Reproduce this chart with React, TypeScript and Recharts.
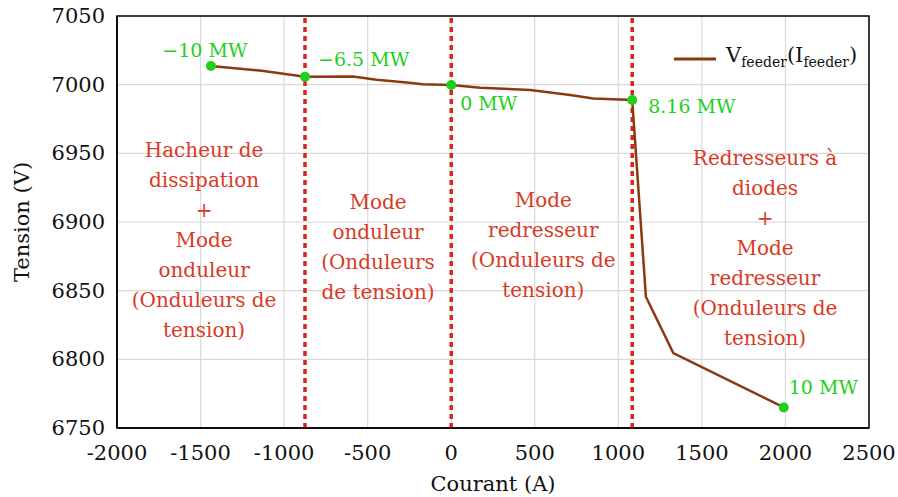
import React from 'react';
import {
  ComposedChart,
  Line,
  XAxis,
  YAxis,
  CartesianGrid,
  ReferenceLine,
  ReferenceDot,
  ReferenceArea,
  Legend,
  LabelList,
} from 'recharts';

// ---- Data ----
const currentA = [-1438, -1134, -875, -588, -447, -267, -169, 0, 174, 473, 712, 850, 1083, 1165, 1329, 1990];
const voltageV = [7013.6, 7010.2, 7005.7, 7006, 7003.6, 7001.6, 7000.3, 6999.7, 6997.8, 6996.1, 6992.5, 6990, 6988.8, 6845.6, 6804.6, 6765];

const keyCurrent = [-1438, -875, 0, 1083, 1990];
const keyVoltage = [7013.6, 7005.7, 6999.7, 6988.8, 6765];
const keyLabels = ['\u221210 MW', '\u22126.5 MW', '0 MW', '8.16 MW', '10 MW'];

const boundaryCurrents = [-875, 0, 1083];

const xTicks = [-2000, -1500, -1000, -500, 0, 500, 1000, 1500, 2000, 2500];
const yTicks = [6750, 6800, 6850, 6900, 6950, 7000, 7050];

const regionLines = [
  ['Hacheur de', 'dissipation', '+', 'Mode', 'onduleur', '(Onduleurs de', 'tension)'],
  ['Mode', 'onduleur', '(Onduleurs', 'de tension)'],
  ['Mode', 'redresseur', '(Onduleurs de', 'tension)'],
  ['Redresseurs \u00e0', 'diodes', '+', 'Mode', 'redresseur', '(Onduleurs de', 'tension)'],
];
const regionAnchorX = [-1479, -438, 551, 1878];
const regionAnchorY = [6952.4, 6914.5, 6916, 6946.6];

// ---- Style ----
const FONT = "'DejaVu Serif', serif";
const LINE_COLOR = '#8B3A0E';
const GREEN = '#1ecf1e';
const RED = '#d7261b';
const RED_TEXT = '#d83a26';

const lineData = currentA.map((c, i) => ({ i: c, v: voltageV[i] }));
const keyData = keyCurrent.map((c, i) => ({ i: c, k: keyVoltage[i], label: keyLabels[i] }));

const labelStyle = [
  { anchor: 'middle', dx: -6, dy: -16 },
  { anchor: 'start', dx: 13, dy: -18 },
  { anchor: 'start', dx: 9, dy: 18 },
  { anchor: 'start', dx: 16, dy: 6 },
  { anchor: 'start', dx: 5, dy: -20 },
];

const KeyLabel = (props: any) => {
  const { x, y, index, value } = props;
  const s = labelStyle[index] || labelStyle[0];
  return (
    <text
      x={x + s.dx}
      y={y + s.dy}
      textAnchor={s.anchor}
      dominantBaseline="central"
      fontFamily={FONT}
      fontSize={19}
      fill={GREEN}
    >
      {value}
    </text>
  );
};

const XTick = (props: any) => {
  const { x, y, payload } = props;
  return (
    <text x={x} y={y} textAnchor="middle" dominantBaseline="hanging" fontFamily={FONT} fontSize={21} fill="#111">
      {payload.value}
    </text>
  );
};

const YTick = (props: any) => {
  const { x, y, payload } = props;
  return (
    <text x={x} y={y} textAnchor="end" dominantBaseline="central" fontFamily={FONT} fontSize={21} fill="#111">
      {payload.value}
    </text>
  );
};

const makeRegionLabel = (lines: string[]) => (props: any) => {
  const vb = props.viewBox || {};
  const cx = (vb.x ?? 0) + (vb.width ?? 0) / 2;
  const cy = (vb.y ?? 0) + (vb.height ?? 0) / 2;
  return (
    <text
      x={cx}
      y={cy}
      textAnchor="middle"
      dominantBaseline="central"
      fontFamily={FONT}
      fontSize={20}
      fill={RED_TEXT}
    >
      {lines.map((t, j) => (
        <tspan key={j} x={cx} y={cy + j * 30}>
          {t}
        </tspan>
      ))}
    </text>
  );
};

const LegendContent = () => (
  <div
    style={{
      display: 'flex',
      alignItems: 'center',
      fontFamily: FONT,
      fontSize: 21,
      color: '#111',
      whiteSpace: 'nowrap',
      lineHeight: '24px',
    }}
  >
    <svg width={42} height={4} style={{ display: 'block' }}>
      <line x1={0} y1={2} x2={42} y2={2} stroke={LINE_COLOR} strokeWidth={3} />
    </svg>
    <span style={{ marginLeft: 10 }}>
      V<sub style={{ fontSize: 14 }}>feeder</sub>(I<sub style={{ fontSize: 14 }}>feeder</sub>)
    </span>
  </div>
);

export default function App() {
  return (
    <div style={{ position: 'absolute', left: 0, top: 0, background: '#fff', fontFamily: FONT }}>
      <ComposedChart
        width={898}
        height={497}
        margin={{ top: 16, right: 29, bottom: 0, left: 0 }}
        style={{ background: '#fff', fontFamily: FONT }}
      >
        <CartesianGrid stroke="#d9d9d9" strokeWidth={1.2} />
        <XAxis
          type="number"
          dataKey="i"
          domain={[-2000, 2500]}
          ticks={xTicks}
          allowDataOverflow
          height={69}
          tickLine={false}
          axisLine={{ stroke: '#000', strokeWidth: 1.5 }}
          tickMargin={11}
          tick={<XTick />}
          interval={0}
          label={{
            value: 'Courant (A)',
            position: 'insideBottom',
            offset: 6,
            style: { fontFamily: FONT, fontSize: 21, fill: '#111' },
          }}
        />
        <YAxis
          type="number"
          domain={[6750, 7050]}
          ticks={yTicks}
          allowDataOverflow
          width={117}
          tickLine={false}
          axisLine={{ stroke: '#000', strokeWidth: 1.5 }}
          tickMargin={6}
          tick={<YTick />}
          interval={0}
          label={{
            value: 'Tension (V)',
            angle: -90,
            position: 'insideLeft',
            offset: 22,
            style: { fontFamily: FONT, fontSize: 21, fill: '#111', textAnchor: 'middle' },
          }}
        />
        <ReferenceArea
          x1={-2000}
          x2={2500}
          y1={6750}
          y2={7050}
          fill="none"
          stroke="#000"
          strokeWidth={1.5}
          fillOpacity={0}
        />
        {boundaryCurrents.map((c) => (
          <ReferenceLine
            key={c}
            x={c}
            stroke={RED}
            strokeWidth={3.5}
            strokeDasharray="5 4"
          />
        ))}
        {regionLines.map((lines, r) => (
          <ReferenceDot
            key={r}
            x={regionAnchorX[r]}
            y={regionAnchorY[r]}
            r={0}
            fill="none"
            stroke="none"
            label={makeRegionLabel(lines)}
          />
        ))}
        <Line
          data={lineData}
          dataKey="v"
          type="linear"
          stroke={LINE_COLOR}
          strokeWidth={2.5}
          dot={false}
          activeDot={false}
          isAnimationActive={false}
          legendType="line"
          name="Vfeeder"
        />
        <Line
          data={keyData}
          dataKey="k"
          type="linear"
          stroke="none"
          dot={{ r: 5, fill: GREEN, stroke: 'none' }}
          activeDot={false}
          isAnimationActive={false}
          legendType="none"
        >
          <LabelList dataKey="label" content={KeyLabel} />
        </Line>
        <Legend
          layout="horizontal"
          verticalAlign="middle"
          align="center"
          wrapperStyle={{ left: 674, top: 43, width: 200, height: 26 }}
          content={LegendContent}
        />
      </ComposedChart>
    </div>
  );
}
